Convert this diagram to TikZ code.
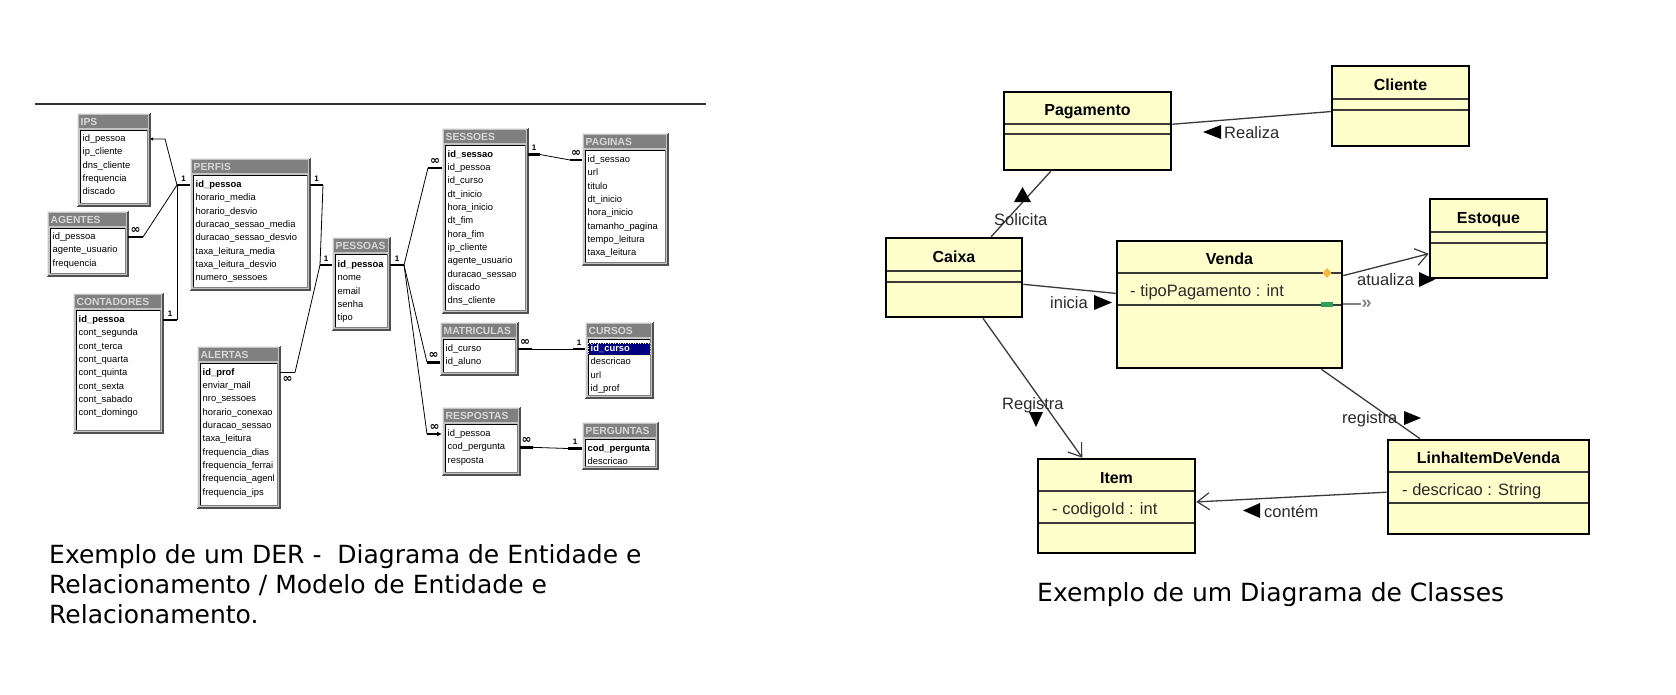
\documentclass[tikz,border=0pt]{standalone}
\usepackage{fontspec}
\setmainfont{Liberation Sans}
\newfontfamily\capfont{DejaVu Sans}
\newfontfamily\djv{DejaVu Sans}
\usetikzlibrary{arrows.meta,calc}
\definecolor{umlfill}{HTML}{FFFFCC}
\definecolor{umlline}{HTML}{3A3A3A}
\definecolor{tgray}{HTML}{808080}
\definecolor{ttext}{HTML}{D8D8D8}
\definecolor{framegray}{HTML}{C4C4C4}
\definecolor{shadowgray}{HTML}{505050}
\definecolor{navyblue}{HTML}{000080}
\definecolor{orangeD}{HTML}{F5B942}
\definecolor{greenR}{HTML}{2E9E5B}
\definecolor{labelgray}{HTML}{2A2A2A}

\newcommand\dertab[6]{%
  \fill[framegray] (#2,#3) rectangle (#4,#5);
  \draw[shadowgray,line width=1.2pt] (#2,#5) -- (#4,#5) -- (#4,#3);
  \draw[white!85!gray,line width=0.8pt] (#2,#5) -- (#2,#3) -- (#4,#3);
  \fill[tgray] (#2+2,#3+2) rectangle (#4-2,#3+14.5);
  \node[dertitle] (#1-t) at (#2+3.5,#3+8.5) {#6};
  \fill[white] (#2+3,#3+17) rectangle (#4-2.5,#5-3);
  \draw[black,line width=0.9pt] (#2+3,#5-3) -- (#2+3,#3+17) -- (#4-2.5,#3+17);
  \draw[gray,line width=0.6pt] (#2+3,#5-3) -- (#4-2.5,#5-3) -- (#4-2.5,#3+17);
  \node[inner sep=0pt,outer sep=0pt,minimum width={#4-#2},minimum height={#5-#3},anchor=north west] (#1) at (#2,#3) {};
}
\newcommand\derrows[4]{%
  \foreach \rowtxt [count=\rn] in {#4} {
    \node[dertext] (#1-\rn) at (#2,{#3+13.35*(\rn-1)}) {\rowtxt};
  }%
}
\newcommand\umlclass[9]{%
  \node[umlbox,minimum width={#4-#2},minimum height={#5-#3}] (#1) at ({(#2+#4)/2},{(#3+#5)/2}) {};
  \node[umltitle] (#1-t) at ({(#2+#4)/2},#7) {#6};
  \draw[divider] (#2+1.2,#8) -- (#4-1.2,#8);
  \draw[divider] (#2+1.2,#9) -- (#4-1.2,#9);
}

\begin{document}
\begin{tikzpicture}[x=1pt,y=-1pt,
  dertext/.style={anchor=west,inner sep=0pt,text height=7pt,text depth=2pt,font=\fontsize{9.4}{11}\selectfont},
  dertitle/.style={anchor=west,inner sep=0pt,text=ttext,font=\bfseries\fontsize{10.3}{12}\selectfont},
  bar/.style={line width=2.6pt,black},
  rel/.style={line width=0.8pt,black},
  card/.style={inner sep=0pt,font=\bfseries\fontsize{8}{8}\selectfont},
  many/.style={inner sep=0pt,font=\djv\bfseries\fontsize{12}{10}\selectfont},
  umlbox/.style={draw=black,line width=2.6pt,fill=umlfill,inner sep=0pt},
  umltitle/.style={anchor=base,inner sep=0pt,font=\bfseries\fontsize{16}{18}\selectfont},
  umlattr/.style={anchor=base west,inner sep=0pt,text=labelgray,font=\fontsize{16.5}{18}\selectfont},
  umllabel/.style={anchor=base west,inner sep=0pt,text=labelgray,font=\fontsize{16.5}{18}\selectfont},
  divider/.style={umlline,line width=1.3pt},
  assoc/.style={umlline,line width=1.3pt},
  nav/.style={assoc,-{Straight Barb[length=12pt,width=17pt,line width=1.2pt]}},
  capt/.style={anchor=base west,inner sep=0pt,font=\capfont\fontsize{25}{30}\selectfont}
]
\useasboundingbox (0,0) rectangle (1676,694);
\fill[white] (0,0) rectangle (1676,694);

% top rule
\draw[black!80,line width=1.3pt] (35,104) -- (706,104);

% ---------- DER tables ----------
\dertab{ips}{77}{113}{150}{206}{IPS}
\derrows{ips}{82.5}{139}{id\_pessoa,ip\_cliente,dns\_cliente,frequencia,discado}

\dertab{agentes}{47}{211}{128}{276}{AGENTES}
\derrows{agentes}{52.5}{237}{id\_pessoa,agente\_usuario,frequencia}

\dertab{perfis}{190}{158}{310}{290}{PERFIS}
\derrows{perfis}{195.5}{185}{\textbf{id\_pessoa},horario\_media,horario\_desvio,duracao\_sessao\_media,duracao\_sessao\_desvio,taxa\_leitura\_media,taxa\_leitura\_desvio,numero\_sessoes}

\dertab{contadores}{73}{293}{163}{433}{CONTADORES}
\derrows{contadores}{78.5}{320}{\textbf{id\_pessoa},cont\_segunda,cont\_terca,cont\_quarta,cont\_quinta,cont\_sexta,cont\_sabado,cont\_domingo}

\dertab{alertas}{197}{346}{280}{508}{ALERTAS}
\derrows{alertas}{202.5}{372.5}{\textbf{id\_prof},enviar\_mail,nro\_sessoes,horario\_conexao,duracao\_sessao,taxa\_leitura,frequencia\_dias,frequencia\_ferrai,frequencia\_agenl,frequencia\_ips}

\dertab{pessoas}{332}{237}{390}{330}{PESSOAS}
\derrows{pessoas}{337.5}{265}{\textbf{id\_pessoa},nome,email,senha,tipo}

\dertab{sessoes}{442}{128}{528}{313}{SESSOES}
\derrows{sessoes}{447.5}{154.5}{\textbf{id\_sessao},id\_pessoa,id\_curso,dt\_inicio,hora\_inicio,dt\_fim,hora\_fim,ip\_cliente,agente\_usuario,duracao\_sessao,discado,dns\_cliente}

\dertab{paginas}{582}{133}{668}{265}{PAGINAS}
\derrows{paginas}{587.5}{160}{id\_sessao,url,titulo,dt\_inicio,hora\_inicio,tamanho\_pagina,tempo\_leitura,taxa\_leitura}

\dertab{matriculas}{440}{322}{518}{375}{MATRICULAS}
\derrows{matriculas}{445.5}{349}{id\_curso,id\_aluno}

\dertab{cursos}{585}{322}{653}{398}{CURSOS}
\fill[navyblue] (588.5,343) rectangle (650,355);
\draw[yellow!60!white,dotted,line width=0.5pt] (588.5,343) rectangle (650,355);
\derrows{cursos}{590.5}{349}{\textcolor{white}{\textbf{id\_curso}},descricao,url,id\_prof}

\dertab{respostas}{442}{407}{520}{475}{RESPOSTAS}
\derrows{respostas}{447.5}{434}{id\_pessoa,cod\_pergunta,resposta}

\dertab{perguntas}{582}{422}{658}{469}{PERGUNTAS}
\derrows{perguntas}{587.5}{448.5}{\textbf{cod\_pergunta},descricao}

% ---------- DER relationships ----------
\draw[bar] (perfis.west|-perfis-1) -- ++(-13,0) coordinate (pl) node[card,midway,above=2.5pt]{1};
\draw[rel,{Latex[length=3pt,width=3.5pt]}-] (ips.east|-ips-1) -- ++(15,0) -- (pl);
\draw[bar] (agentes.east|-agentes-1) -- ++(15,0) coordinate (al) node[many,midway,above=2.5pt]{∞};
\draw[rel] (al) -- (pl);
\draw[bar] (contadores.east|-contadores-1) -- ++(14,0) coordinate (cl) node[card,midway,above=2.5pt]{1};
\draw[rel] (cl) -- (pl);

\draw[bar] (perfis.east|-perfis-1) -- ++(13,0) coordinate (pr) node[card,midway,above=2.5pt]{1};
\draw[bar] (pessoas.west|-pessoas-1) -- ++(-12,0) coordinate (psl) node[card,midway,above=2.5pt]{1};
\draw[rel] (pr) -- (psl);
\draw[line width=1.4pt] (alertas.east|-alertas-1) -- ++(15,0) coordinate (alr) node[many,midway,below=3pt]{∞};
\draw[rel] (alr) -- (psl);

\draw[bar] (pessoas.east|-pessoas-1) -- ++(14,0) coordinate (psr) node[card,midway,above=2.5pt]{1};
\draw[bar] (sessoes.west|-sessoes-2) -- ++(-14,0) coordinate (sl) node[many,midway,above=2.5pt]{∞};
\draw[rel] (psr) -- (sl);
\draw[bar] (matriculas.west|-matriculas-2) -- ++(-13,0) coordinate (ml) node[many,midway,above=2.5pt]{∞};
\draw[rel] (psr) -- (ml);
\draw[bar,{Latex[length=5pt,width=5pt]}-] (respostas.west|-respostas-1) -- ++(-15,0) coordinate (rl) node[many,midway,above=2.5pt]{∞};
\draw[rel] (psr) -- (rl);

\draw[bar] (sessoes.east|-sessoes-1) -- ++(12,0) coordinate (sr) node[card,midway,above=2.5pt]{1};
\draw[bar] (paginas.west|-paginas-1) -- ++(-12,0) coordinate (pgl) node[many,midway,above=2.5pt]{∞};
\draw[rel] (sr) -- (pgl);

\draw[bar] (matriculas.east|-matriculas-1) -- ++(14,0) coordinate (mr) node[many,midway,above=2.5pt]{∞};
\draw[bar] (cursos.west|-cursos-1) -- ++(-12,0) coordinate (cul) node[card,midway,above=2.5pt]{1};
\draw[rel] (mr) -- (cul);

\draw[bar] (respostas.east|-respostas-2) -- ++(13,0) coordinate (rr) node[many,midway,above=2.5pt]{∞};
\draw[bar] (perguntas.west|-perguntas-1) -- ++(-14,0) coordinate (pel) node[card,midway,above=2.5pt]{1};
\draw[rel] (rr) -- (pel);

% ---------- UML classes ----------
\umlclass{pag}{1004}{92}{1171}{170}{Pagamento}{115}{124}{134}
\umlclass{cli}{1332}{66}{1469}{146}{Cliente}{90}{99}{110}
\umlclass{caixa}{886}{238}{1022}{317}{Caixa}{262}{271}{282}
\umlclass{venda}{1117}{241}{1342}{368}{Venda}{264}{273}{305}
\umlclass{estoque}{1430}{199}{1547}{278}{Estoque}{223}{232}{243}
\umlclass{item}{1038}{459}{1195}{553}{Item}{483}{491}{523}
\umlclass{linha}{1388}{440}{1589}{534}{LinhaItemDeVenda}{463}{472}{503}

\node[umlattr] (venda-a) at (1130,296) {- tipoPagamento : int};
\node[umlattr] (item-a) at (1052,514) {- codigoId : int};
\node[umlattr] (linha-a) at (1402,495) {- descricao : String};

% Venda markers
\fill[orangeD] (1327,268) -- (1331.5,273) -- (1327,278) -- (1322.5,273) -- cycle;
\fill[greenR] (1321,301.5) rectangle (1333,306.5);
\draw[gray,line width=1.5pt] (venda.east|-1343,304) -- ++(18,0) coordinate (vnav);
\node[inner sep=0pt,text=gray,anchor=west,font=\bfseries\fontsize{18}{18}\selectfont] (vnavt) at (vnav) {»};

% associations
\draw[assoc] (pag) -- (cli);
\draw[assoc] (pag) -- (caixa);
\draw[assoc] (caixa) -- (venda);
\draw[nav] (venda) -- (estoque);
\draw[nav] (caixa) -- (item);
\draw[assoc] (venda) -- (linha);
\draw[nav] (linha) -- (item);

% association labels
\fill[black] (1203,132) -- (1221,125) -- (1221,139) -- cycle;
\node[umllabel] (l-realiza) at (1224,138) {Realiza};
\fill[black] (1014,202) -- (1031,202) -- (1022.5,187) -- cycle;
\node[umllabel] (l-solicita) at (994,225) {Solicita};
\node[umllabel] (l-inicia) at (1050,308) {inicia};
\fill[black] (1094,295) -- (1112,302.5) -- (1094,310) -- cycle;
\node[umllabel] (l-atualiza) at (1357,285) {atualiza};
\fill[black] (1419,272) -- (1435,279.5) -- (1419,287) -- cycle;
\node[umllabel] (l-registra1) at (1002,409) {Registra};
\fill[black] (1029,412) -- (1043,412) -- (1036,427) -- cycle;
\node[umllabel] (l-registra2) at (1342,423) {registra};
\fill[black] (1404,411) -- (1421,418) -- (1404,425) -- cycle;
\fill[black] (1243,510.5) -- (1260,503) -- (1260,518) -- cycle;
\node[umllabel] (l-contem) at (1264,517) {contém};

% captions
\node[capt] (cap1) at (49,563) {Exemplo de um DER - \ Diagrama de Entidade e};
\node[capt] (cap2) at (49,593) {Relacionamento / Modelo de Entidade e};
\node[capt] (cap3) at (49,623) {Relacionamento.};
\node[capt] (cap4) at (1037,601) {Exemplo de um Diagrama de Classes};
\end{tikzpicture}
\end{document}
